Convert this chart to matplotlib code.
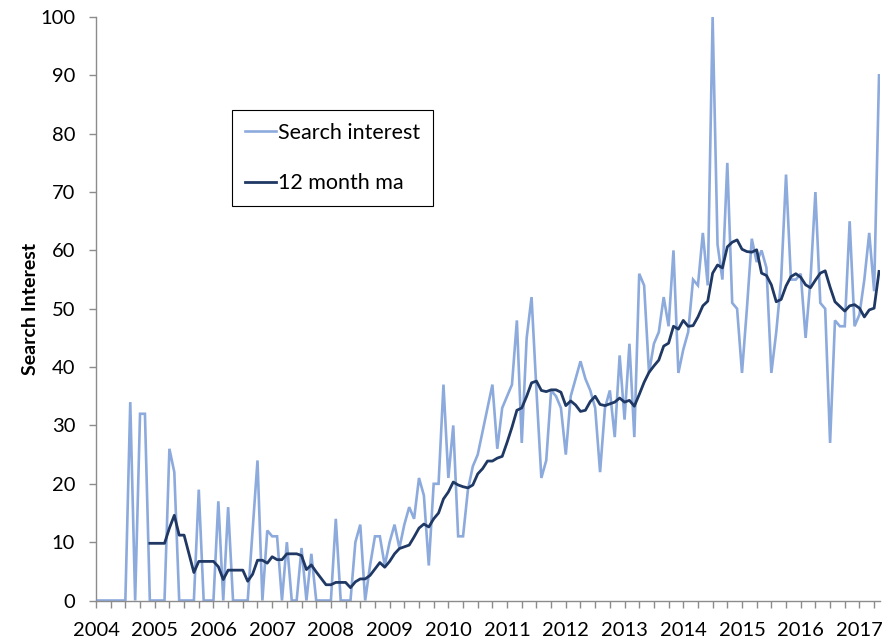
import numpy as np
import pandas as pd
import matplotlib
matplotlib.use("Agg")
import matplotlib.pyplot as plt

# Monthly search interest, Jan 2004 .. May 2017
search_interest = [
    0, 0, 0, 0, 0, 0, 0, 34, 0, 32, 32, 0,          # 2004
    0, 0, 0, 26, 22, 0, 0, 0, 0, 19, 0, 0,           # 2005
    0, 17, 0, 16, 0, 0, 0, 0, 12, 24, 0, 12,         # 2006
    11, 11, 0, 10, 0, 0, 9, 0, 8, 0, 0, 0,           # 2007
    0, 14, 0, 0, 0, 10, 13, 0, 6, 11, 11, 6,         # 2008
    10, 13, 9, 13, 16, 14, 21, 18, 6, 20, 20, 37,    # 2009
    21, 30, 11, 11, 19, 23, 25, 29, 33, 37, 26, 33,  # 2010
    35, 37, 48, 27, 45, 52, 36, 21, 24, 36, 35, 33,  # 2011
    25, 35, 38, 41, 38, 36, 33, 22, 33, 36, 28, 42,  # 2012
    31, 44, 28, 56, 54, 39, 44, 46, 52, 47, 60, 39,  # 2013
    43, 46, 55, 54, 63, 54, 100, 61, 55, 75, 51, 50, # 2014
    39, 50, 62, 58, 60, 57, 39, 46, 55, 73, 55, 55,  # 2015
    56, 45, 55, 70, 51, 50, 27, 48, 47, 47, 65, 47,  # 2016
    49, 55, 63, 53, 90,                              # 2017
]
year_labels = [str(y) for y in range(2004, 2018)]
y_ticks = list(range(0, 101, 10))
series_names = ["Search interest", "12 month ma"]

# moving average as drawn in the source chart (first value shown at month 12)
ma_window = 10
ma_first_index = 11

months = np.arange(len(search_interest))
ma = pd.Series(search_interest, dtype=float).rolling(ma_window).mean()
ma.iloc[:ma_first_index] = np.nan

plt.rcParams["font.family"] = ["Lato", "DejaVu Sans"]

W, H = 885, 644
fig = plt.figure(figsize=(W / 100, H / 100), dpi=100)
fig.patch.set_facecolor("white")
left, right, top, bottom = 96, 880, 17, 600.5
ax = fig.add_axes([left / W, 1 - bottom / H, (right - left) / W, (bottom - top) / H])

light = "#8DAADD"
dark = "#1F3864"
ax.plot(months, search_interest, color=light, lw=1.9, label=series_names[0],
        solid_joinstyle="miter")
ax.plot(months, ma, color=dark, lw=2.0, label=series_names[1])

ax.set_xlim(0, len(search_interest) - 1 + 0.2)
ax.set_ylim(0, 100)

for s in ["top", "right"]:
    ax.spines[s].set_visible(False)
for s in ["left", "bottom"]:
    ax.spines[s].set_color("#8C8C8C")
    ax.spines[s].set_linewidth(1.0)

ax.set_yticks(y_ticks)
ax.set_yticklabels([str(v) for v in y_ticks], fontsize=14.5)
ax.set_xticks(np.arange(0, len(search_interest), 12))
ax.set_xticklabels(year_labels, fontsize=14.5)
ax.set_xticks(np.arange(0, len(search_interest), 3), minor=True)
ax.tick_params(axis="y", length=5, width=1, color="#8C8C8C", pad=10)
ax.tick_params(axis="x", which="both", length=5, width=1, color="#8C8C8C", pad=10.5)

ax.set_ylabel("Search Interest", fontsize=14, fontweight="bold")
ax.yaxis.set_label_coords((39 - left) / (right - left), 0.5)

leg = ax.legend(loc="upper left", bbox_to_anchor=(232 / W, 1 - 110 / H),
                bbox_transform=fig.transFigure, borderaxespad=0,
                fontsize=15.5, frameon=True, fancybox=False, framealpha=1,
                edgecolor="black", handlelength=1.45, handletextpad=0.1,
                labelspacing=1.4, borderpad=0.6)
leg.get_frame().set_linewidth(0.8)

fig.savefig("out.png", dpi=100, facecolor="white")
